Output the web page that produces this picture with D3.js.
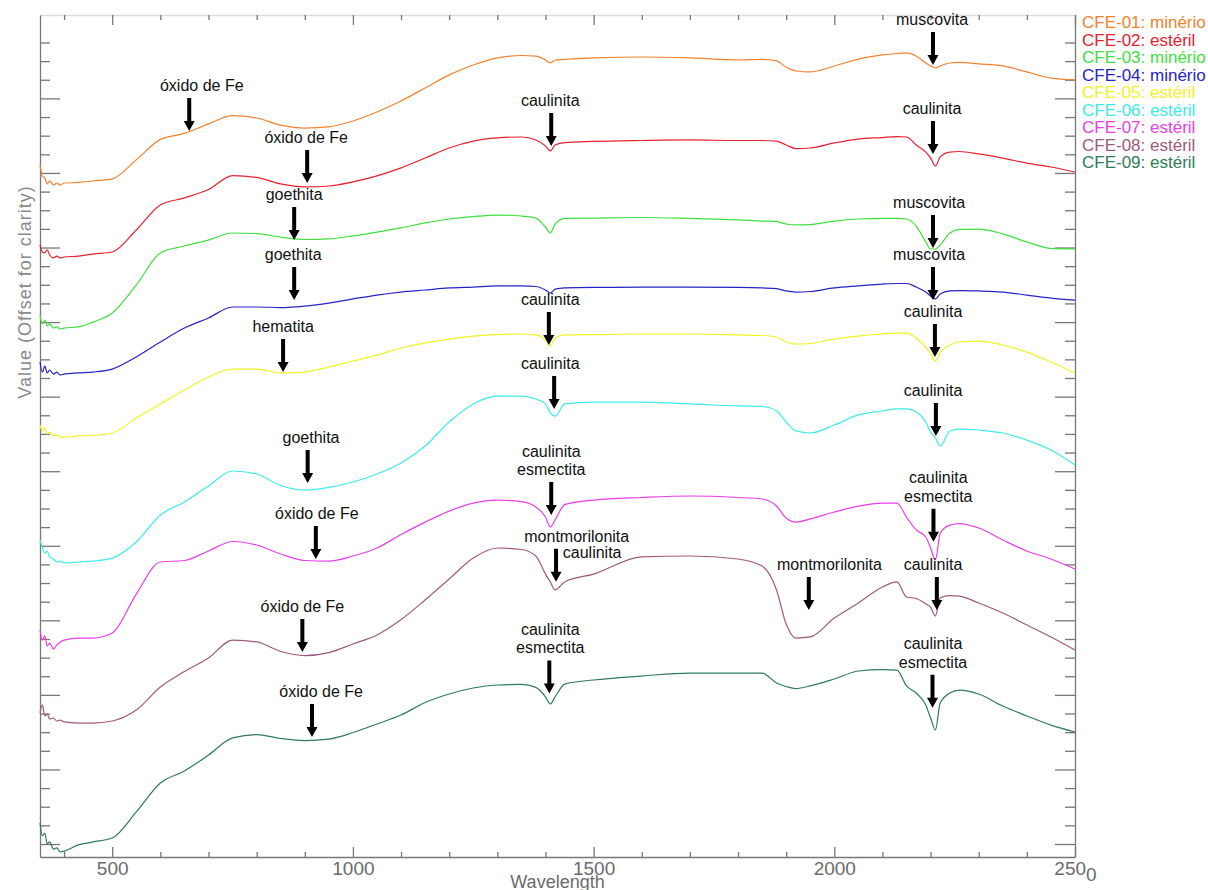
<!DOCTYPE html>
<meta charset="utf-8">
<style>
  body { margin: 0; background: #fff; }
  text { font-family: "Liberation Sans", Arial, sans-serif; }
</style>
<svg width="1208" height="890"></svg>
<script src="https://cdn.jsdelivr.net/npm/d3@7"></script>
<script>

    // wavelength grid (nm) shared by all spectra
    var wavelengths = [350, 355, 360, 365, 370, 378, 385, 392, 400,
        430, 460, 500, 550, 600,
        650, 700, 750, 800, 850, 900, 950, 1000, 1050, 1100,
        1150, 1200, 1250, 1300, 1350, 1380, 1400, 1410, 1420, 1440,
        1500, 1600, 1700, 1800, 1850, 1880, 1900, 1920, 1950, 2000,
        2050, 2100, 2130, 2150, 2170, 2190, 2200, 2210, 2220, 2240, 2260,
        2300, 2350, 2400, 2450, 2500];

    // reflectance + offset
    var cfe01 = [3.643, 3.584, 3.573, 3.541, 3.557, 3.535, 3.546, 3.535, 3.546,
        3.549, 3.557, 3.568, 3.670, 3.780,
        3.812, 3.863, 3.908, 3.895, 3.857, 3.841, 3.847, 3.879, 3.927, 3.986,
        4.056, 4.126, 4.179, 4.217, 4.230, 4.227, 4.206, 4.190, 4.206, 4.209,
        4.217, 4.222, 4.217, 4.206, 4.209, 4.201, 4.168, 4.147, 4.142, 4.174,
        4.211, 4.233, 4.241, 4.244, 4.227, 4.190, 4.174, 4.163, 4.174, 4.190, 4.193,
        4.185, 4.174, 4.142, 4.109, 4.099];
    var cfe02 = [3.213, 3.176, 3.171, 3.187, 3.160, 3.144, 3.154, 3.144, 3.149,
        3.154, 3.165, 3.176, 3.294, 3.428,
        3.466, 3.511, 3.586, 3.576, 3.541, 3.525, 3.530, 3.552, 3.584, 3.627,
        3.680, 3.734, 3.771, 3.788, 3.793, 3.777, 3.745, 3.718, 3.750, 3.763,
        3.769, 3.774, 3.777, 3.774, 3.774, 3.771, 3.750, 3.731, 3.734, 3.761,
        3.782, 3.790, 3.795, 3.793, 3.750, 3.712, 3.680, 3.637, 3.686, 3.712, 3.715,
        3.702, 3.680, 3.653, 3.632, 3.605];
    var cfe03 = [2.838, 2.790, 2.811, 2.779, 2.790, 2.768, 2.774, 2.763, 2.768,
        2.774, 2.800, 2.849, 2.999, 3.171,
        3.208, 3.240, 3.278, 3.275, 3.256, 3.243, 3.246, 3.262, 3.283, 3.305,
        3.332, 3.353, 3.366, 3.374, 3.369, 3.358, 3.310, 3.278, 3.326, 3.356,
        3.358, 3.361, 3.356, 3.348, 3.342, 3.340, 3.326, 3.321, 3.323, 3.342,
        3.353, 3.356, 3.356, 3.353, 3.315, 3.230, 3.192, 3.192, 3.213, 3.278, 3.297,
        3.299, 3.273, 3.230, 3.195, 3.192];
    var cfe04 = [2.586, 2.532, 2.564, 2.527, 2.543, 2.521, 2.532, 2.516, 2.521,
        2.527, 2.532, 2.548, 2.613, 2.693,
        2.768, 2.822, 2.881, 2.881, 2.878, 2.886, 2.902, 2.924, 2.945, 2.961,
        2.972, 2.983, 2.988, 2.994, 2.994, 2.991, 2.972, 2.956, 2.977, 2.983,
        2.986, 2.987, 2.988, 2.986, 2.983, 2.980, 2.967, 2.961, 2.964, 2.983,
        2.994, 3.004, 3.007, 3.007, 2.988, 2.961, 2.940, 2.924, 2.951, 2.967, 2.969,
        2.967, 2.961, 2.945, 2.929, 2.918];
    var cfe05 = [2.248, 2.216, 2.232, 2.200, 2.210, 2.189, 2.194, 2.183, 2.183,
        2.189, 2.192, 2.205, 2.285, 2.361,
        2.436, 2.505, 2.548, 2.548, 2.527, 2.532, 2.559, 2.591, 2.623, 2.661,
        2.688, 2.709, 2.725, 2.733, 2.736, 2.731, 2.704, 2.672, 2.715, 2.731,
        2.733, 2.736, 2.736, 2.731, 2.728, 2.720, 2.693, 2.682, 2.685, 2.709,
        2.725, 2.736, 2.741, 2.741, 2.715, 2.666, 2.629, 2.591, 2.639, 2.677, 2.693,
        2.698, 2.677, 2.639, 2.586, 2.527];
    var cfe06 = [1.631, 1.588, 1.561, 1.572, 1.540, 1.529, 1.513, 1.518, 1.508,
        1.513, 1.518, 1.534, 1.620, 1.765,
        1.835, 1.921, 2.001, 1.985, 1.923, 1.899, 1.913, 1.942, 1.985, 2.044,
        2.135, 2.264, 2.361, 2.403, 2.403, 2.387, 2.361, 2.312, 2.296, 2.361,
        2.371, 2.371, 2.361, 2.350, 2.347, 2.323, 2.264, 2.216, 2.205, 2.248,
        2.302, 2.323, 2.334, 2.334, 2.318, 2.264, 2.210, 2.178, 2.135, 2.216, 2.226,
        2.221, 2.205, 2.167, 2.114, 2.033];
    var cfe07 = [1.148, 1.094, 1.116, 1.062, 1.078, 1.046, 1.068, 1.084, 1.094,
        1.105, 1.105, 1.132, 1.341, 1.513,
        1.521, 1.572, 1.623, 1.604, 1.556, 1.521, 1.518, 1.545, 1.588, 1.660,
        1.727, 1.786, 1.829, 1.845, 1.837, 1.808, 1.754, 1.701, 1.738, 1.821,
        1.845, 1.859, 1.867, 1.859, 1.851, 1.813, 1.749, 1.727, 1.744, 1.781,
        1.813, 1.829, 1.829, 1.754, 1.685, 1.647, 1.588, 1.524, 1.668, 1.711, 1.719,
        1.695, 1.631, 1.572, 1.529, 1.475];
    var cfe08 = [0.703, 0.746, 0.687, 0.697, 0.671, 0.676, 0.660, 0.665, 0.655,
        0.649, 0.649, 0.660, 0.719, 0.842,
        0.925, 0.998, 1.094, 1.084, 1.033, 1.011, 1.027, 1.073, 1.121, 1.204,
        1.309, 1.422, 1.534, 1.588, 1.580, 1.545, 1.448, 1.406, 1.363, 1.406,
        1.448, 1.540, 1.545, 1.529, 1.491, 1.363, 1.180, 1.105, 1.111, 1.212,
        1.293, 1.379, 1.406, 1.325, 1.317, 1.288, 1.271, 1.223, 1.320, 1.333, 1.330,
        1.293, 1.239, 1.175, 1.111, 1.041];
    var cfe09 = [0.113, 0.043, 0.059, 0.000, 0.011, -0.027, -0.021, -0.043, -0.038,
        -0.005, 0.011, 0.032, 0.172, 0.327,
        0.392, 0.477, 0.569, 0.587, 0.566, 0.555, 0.563, 0.598, 0.644, 0.692,
        0.759, 0.805, 0.837, 0.853, 0.856, 0.840, 0.789, 0.751, 0.789, 0.858,
        0.880, 0.901, 0.917, 0.917, 0.917, 0.864, 0.845, 0.834, 0.848, 0.885,
        0.928, 0.936, 0.933, 0.848, 0.810, 0.746, 0.676, 0.612, 0.756, 0.810, 0.826,
        0.805, 0.740, 0.687, 0.638, 0.601];

    var series = [cfe01, cfe02, cfe03, cfe04, cfe05, cfe06, cfe07, cfe08, cfe09];
    var names = ["CFE-01: minério", "CFE-02: estéril", "CFE-03: minério", "CFE-04: minério",
        "CFE-05: estéril", "CFE-06: estéril", "CFE-07: estéril", "CFE-08: estéril", "CFE-09: estéril"];
    var colors = ["#f2822f", "#e8202f", "#3ee03e", "#2424c8", "#f2f224",
        "#3debeb", "#e83ee8", "#9e5a7e", "#2f7d57"];

    // absorption features: arrow wavelength, arrow tip value, label centre wavelength
    var features = [
        {text: "óxido de Fe", w: 660, tip: 3.825, tw: 686},
        {text: "muscovita", w: 2205, tip: 4.179, tw: 2203},
        {text: "caulinita", w: 1412, tip: 3.745, tw: 1410},
        {text: "óxido de Fe", w: 905, tip: 3.546, tw: 903},
        {text: "caulinita", w: 2205, tip: 3.702, tw: 2203},
        {text: "goethita", w: 878, tip: 3.240, tw: 878},
        {text: "muscovita", w: 2205, tip: 3.197, tw: 2197},
        {text: "goethita", w: 878, tip: 2.918, tw: 876},
        {text: "muscovita", w: 2205, tip: 2.918, tw: 2197},
        {text: "caulinita", w: 1407, tip: 2.677, tw: 1410},
        {text: "hematita", w: 855, tip: 2.532, tw: 855},
        {text: "caulinita", w: 2209, tip: 2.613, tw: 2205},
        {text: "caulinita", w: 1418, tip: 2.334, tw: 1410},
        {text: "caulinita", w: 2211, tip: 2.189, tw: 2205},
        {text: "goethita", w: 906, tip: 1.937, tw: 913},
        {text: "caulinita\nesmectita", w: 1412, tip: 1.765, tw: 1412},
        {text: "caulinita\nesmectita", w: 2206, tip: 1.622, tw: 2216},
        {text: "montmorilonita", w: 1422, tip: 1.407, tw: 1465},
        {text: "montmorilonita", w: 1947, tip: 1.255, tw: 1990},
        {text: "caulinita", w: 2213, tip: 1.255, tw: 2205},
        {text: "óxido de Fe", w: 895, tip: 1.030, tw: 895},
        {text: "óxido de Fe", w: 923, tip: 1.529, tw: 925},
        {text: "caulinita\nesmectita", w: 1408, tip: 0.808, tw: 1410},
        {text: "caulinita\nesmectita", w: 2204, tip: 0.731, tw: 2205},
        {text: "óxido de Fe", w: 915, tip: 0.574, tw: 934}
    ];
    // labels without an arrow of their own
    var notes = [
        {text: "caulinita", tw: 1497, v: 1.535}
    ];

    var xMajor = [500, 1000, 1500, 2000, 2500];
    var xMinor = d3.range(400, 2501, 100).filter(function (d) { return d % 500 !== 0; });
    var yTicks = d3.range(0, 44).map(function (i) { return i / 10; });

    var svg = d3.select("svg"),
            margin = {top: 15, left: 40, bottom: 33, right: 133},
            width = +svg.attr("width") - margin.left - margin.right,
            height = +svg.attr("height") - margin.top - margin.bottom;

    var x = d3.scaleLinear()
            .domain([350, 2500])
            .range([0, width]);

    var y = d3.scaleLinear()
            .domain([-0.0697, 4.4474])
            .range([height, 0]);

    var g = svg.append("g")
            .attr("transform", "translate(" + margin.left + "," + margin.top + ")");

    var axisColor = "#777";
    function isMajorY(d) { return Math.round(d * 10) % 4 === 0; }

    // bottom axis
    var bottomAxis = g.append("g")
            .attr("transform", "translate(0," + height + ")")
            .call(d3.axisBottom(x).tickValues(xMajor).tickSizeInner(-10).tickSizeOuter(0)
                    .tickPadding(5).tickFormat(d3.format("d")));
    g.append("g")
            .attr("transform", "translate(0," + height + ")")
            .call(d3.axisBottom(x).tickValues(xMinor).tickSize(-5).tickFormat(""))
            .select(".domain").remove();
    bottomAxis.selectAll("text")
            .attr("fill", "#6b6b6b")
            .style("font-size", "19px")
            .filter(function (d) { return d === 2500; })
            .text("250")
            .append("tspan").attr("dy", 6).text("0");

    // top axis
    var topAxis = g.append("g")
            .call(d3.axisTop(x).tickValues(xMajor).tickSizeInner(-10).tickSizeOuter(0).tickFormat(""));
    g.append("g")
            .call(d3.axisTop(x).tickValues(xMinor).tickSize(-5).tickFormat(""))
            .select(".domain").remove();

    // left and right axes
    var leftAxis = g.append("g")
            .call(d3.axisLeft(y).tickValues(yTicks).tickSizeInner(-10).tickSizeOuter(0).tickFormat(""));
    leftAxis.selectAll(".tick line").filter(isMajorY).attr("x2", 20);

    var rightAxis = g.append("g")
            .attr("transform", "translate(" + width + ",0)")
            .call(d3.axisRight(y).tickValues(yTicks).tickSizeInner(-10).tickSizeOuter(0).tickFormat(""));
    rightAxis.selectAll(".tick line").filter(isMajorY).attr("x2", -20);

    g.selectAll(".domain, .tick line")
            .attr("stroke", axisColor)
            .attr("stroke-width", 1.3);
    topAxis.select(".domain").attr("stroke", "#dcdcdc");

    // axis titles
    svg.append("text")
            .attr("x", margin.left + width / 2)
            .attr("y", 888)
            .attr("text-anchor", "middle")
            .attr("fill", "#6b6b6b")
            .style("font-size", "18px")
            .text("Wavelength");

    svg.append("text")
            .attr("transform", "translate(31,292) rotate(-90)")
            .attr("text-anchor", "middle")
            .attr("fill", "#8a8a8a")
            .style("font-size", "18px")
            .style("letter-spacing", "1px")
            .text("Value (Offset for clarity)");

    // spectra
    var line = d3.line()
            .x(function (d, i) { return x(wavelengths[i]); })
            .y(function (d) { return y(d); })
            .curve(d3.curveMonotoneX);

    g.append("g")
            .selectAll("path")
            .data(series)
            .enter().append("path")
            .attr("fill", "none")
            .attr("stroke", function (d, i) { return colors[i]; })
            .attr("stroke-width", 1.2)
            .attr("d", line);

    // arrows + labels
    var arrowLen = 33;
    var ann = g.append("g").attr("class", "annotations");
    features.forEach(function (f) {
        var ax = x(f.w), tipY = y(f.tip), topY = tipY - arrowLen;
        ann.append("path")
                .attr("fill", "#000")
                .attr("d", "M" + (ax - 2) + "," + topY + "H" + (ax + 2) + "V" + (tipY - 10) +
                        "H" + (ax + 5.5) + "L" + ax + "," + tipY + "L" + (ax - 5.5) + "," + (tipY - 10) +
                        "H" + (ax - 2) + "Z");
        var lines = f.text.split("\n");
        lines.forEach(function (t, j) {
            ann.append("text")
                    .attr("x", x(f.tw))
                    .attr("y", topY - 7 - (lines.length - 1 - j) * 18.5)
                    .attr("text-anchor", "middle")
                    .style("font-size", "16px")
                    .attr("fill", "#111")
                    .text(t);
        });
    });
    notes.forEach(function (n) {
        ann.append("text")
                .attr("x", x(n.tw))
                .attr("y", y(n.v))
                .attr("text-anchor", "middle")
                .style("font-size", "16px")
                .attr("fill", "#111")
                .text(n.text);
    });

    // legend
    svg.append("g")
            .selectAll("text")
            .data(names)
            .enter().append("text")
            .attr("x", margin.left + width + 7)
            .attr("y", function (d, i) { return 28 + i * 17.5; })
            .attr("fill", function (d, i) { return colors[i]; })
            .style("font-size", "17px")
            .text(function (d) { return d; });

</script>
